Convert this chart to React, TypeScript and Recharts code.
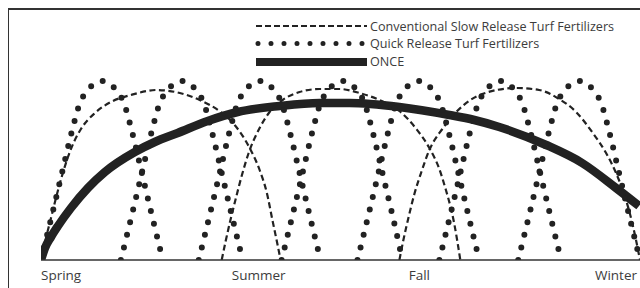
import React from 'react';
import { ComposedChart, Line, XAxis, YAxis, Legend } from 'recharts';

// x: position through the year (0 = start of spring), y: amount released
const seasonLabels = ['Spring', 'Summer', 'Fall', 'Winter'];
const seasonTicks = [0, 218, 379, 597];

const legendLabels = [
  'Conventional Slow Release Turf Fertilizers',
  'Quick Release Turf Fertilizers',
  'ONCE',
];

const onceRelease: [number, number][] = [
  [0, 0], [4, 12], [10, 23], [17, 34], [30, 52], [47, 72], [64, 88], [94, 108], [114, 118],
  [137, 127], [167, 139], [197, 148], [239, 154], [279, 157], [309, 157], [359, 153],
  [409, 145], [434, 140], [459, 133], [506, 115], [542, 97], [576, 72], [599, 54],
];

const slowRelease1: [number, number][] = [
  [0, 0], [4, 18], [9, 38], [15, 62], [21, 84], [27, 103], [33, 118], [40, 131], [54, 147],
  [70, 158], [90, 165], [116, 170], [139, 167], [159, 160], [180, 148], [194, 135],
  [209, 112], [219, 90], [226, 68], [232, 39], [237, 15], [240, 0],
];
const slowRelease2: [number, number][] = [
  [181, 0], [185, 19], [190, 41], [195, 61], [201, 84], [208, 107], [219, 132], [229, 148],
  [242, 160], [259, 168], [279, 171], [299, 171], [319, 167], [339, 160], [359, 149],
  [376, 131], [389, 112], [399, 91], [405, 72], [410, 54], [414, 36], [417, 19], [420, 0],
];
const slowRelease3: [number, number][] = [
  [359, 0], [363, 20], [368, 42], [374, 66], [381, 88], [389, 110], [402, 131], [416, 148],
  [442, 166], [476, 172], [499, 170], [519, 161], [536, 148], [552, 128], [566, 107],
  [576, 87], [586, 60], [592, 38], [596, 20], [600, 0],
];

const quick1: [number, number][] = [
  [0, 0], [11, 45], [21, 87], [31, 129], [39, 157], [46, 169], [55, 177], [61, 179],
  [67, 177], [76, 169], [83, 157], [91, 129], [101, 87], [111, 45], [122, 0],
];
const quick2: [number, number][] = [
  [80, 0], [91, 45], [101, 87], [111, 129], [119, 157], [126, 169], [135, 177], [141, 179],
  [147, 177], [156, 169], [163, 157], [171, 129], [181, 87], [191, 45], [202, 0],
];
const quick3: [number, number][] = [
  [158, 0], [169, 45], [179, 87], [189, 129], [197, 157], [204, 169], [213, 177], [219, 179],
  [225, 177], [234, 169], [241, 157], [249, 129], [259, 87], [269, 45], [280, 0],
];
const quick4: [number, number][] = [
  [241, 0], [252, 45], [262, 87], [272, 129], [280, 157], [287, 169], [296, 177], [302, 179],
  [308, 177], [317, 169], [324, 157], [332, 129], [342, 87], [352, 45], [362, 0],
];
const quick5: [number, number][] = [
  [317, 0], [328, 45], [338, 87], [348, 129], [356, 157], [363, 169], [372, 177], [378, 179],
  [384, 177], [393, 169], [400, 157], [408, 129], [418, 87], [428, 45], [439, 0],
];
const quick6: [number, number][] = [
  [399, 0], [410, 45], [420, 87], [430, 129], [438, 157], [445, 169], [454, 177], [460, 179],
  [466, 177], [475, 169], [482, 157], [490, 129], [500, 87], [510, 45], [521, 0],
];
const quick7: [number, number][] = [
  [478, 0], [489, 45], [499, 87], [509, 129], [517, 157], [524, 169], [533, 177], [539, 179],
  [545, 177], [554, 169], [561, 157], [569, 129], [579, 87], [589, 45], [600, 0],
];

const toRows = (pts: [number, number][]) => pts.map(([x, y]) => ({ x, y }));

const INK = '#222222';
const TEXT = '#3c3c3c';
const FONT = "'Open Sans', 'Noto Sans', sans-serif";

const slowSeries = [slowRelease1, slowRelease2, slowRelease3];
const quickSeries = [quick1, quick2, quick3, quick4, quick5, quick6, quick7];

const renderTick = (props: any) => {
  const { x, y, payload } = props;
  const i = seasonTicks.indexOf(payload.value);
  const anchor = i === 0 ? 'start' : i === seasonTicks.length - 1 ? 'end' : 'middle';
  return (
    <text x={x} y={y} dy={12} textAnchor={anchor} fontSize={13.5} fill={TEXT} fontFamily={FONT}>
      {seasonLabels[i]}
    </text>
  );
};

const renderLegend = () => (
  <svg width={380} height={58} style={{ display: 'block', overflow: 'visible' }}>
    <line x1={0} x2={111} y1={9} y2={9} stroke={INK} strokeWidth={2.2} strokeDasharray="6 3" />
    <line x1={2} x2={111} y1={26.5} y2={26.5} stroke={INK} strokeWidth={5} strokeDasharray="0 13" strokeLinecap="round" />
    <rect x={0} y={41} width={111} height={8} fill={INK} />
    {legendLabels.map((t, i) => (
      <text key={t} x={114} y={13.5 + i * 17.8} fontSize={12.6} fill={TEXT} fontFamily={FONT}>
        {t}
      </text>
    ))}
  </svg>
);

const renderYLabel = () => (
  <text
    x={24}
    y={124}
    transform="rotate(-90 24 124)"
    textAnchor="middle"
    fontSize={13.5}
    fill={TEXT}
    fontFamily={FONT}
  >
    Amount of Nutrients Released
  </text>
);

export default function App() {
  return (
    <div style={{ position: 'relative', width: 632, height: 280 }}>
      <style>{'html{overflow:hidden} body{margin-right:0}'}</style>
      <div
        style={{
          position: 'absolute',
          left: 0,
          top: 0,
          width: 632,
          height: 280,
          boxSizing: 'border-box',
          borderTop: '2px solid #333',
          borderLeft: '1.5px solid #333',
          pointerEvents: 'none',
        }}
      />
      <ComposedChart width={632} height={280} margin={{ top: 1, right: 0, bottom: 0, left: 33 }}>
        <XAxis
          dataKey="x"
          type="number"
          domain={[0, 600]}
          ticks={seasonTicks}
          interval={0}
          tick={renderTick}
          tickLine={false}
          axisLine={{ stroke: '#333', strokeWidth: 1.5 }}
          height={28}
          allowDataOverflow
        />
        <YAxis
          type="number"
          domain={[0, 251]}
          width={0}
          tick={false}
          tickLine={false}
          axisLine={{ stroke: '#333', strokeWidth: 1.5 }}
          label={{ content: renderYLabel }}
          allowDataOverflow
        />
        <Legend
          layout="vertical"
          align="center"
          verticalAlign="middle"
          wrapperStyle={{ left: 248, top: 8.5, width: 380 }}
          content={renderLegend}
        />
        <Line
          data={toRows(onceRelease)}
          dataKey="y"
          type="monotone"
          stroke={INK}
          strokeWidth={8.5}
          dot={false}
          activeDot={false}
          isAnimationActive={false}
          legendType="none"
        />
        {slowSeries.map((s, i) => (
          <Line
            key={'s' + i}
            data={toRows(s)}
            dataKey="y"
            type="monotone"
            stroke={INK}
            strokeWidth={2.2}
            strokeDasharray="6 3.5"
            dot={false}
            activeDot={false}
            isAnimationActive={false}
            legendType="none"
          />
        ))}
        {quickSeries.map((s, i) => (
          <Line
            key={'q' + i}
            data={toRows(s)}
            dataKey="y"
            type="monotone"
            stroke={INK}
            strokeWidth={6}
            strokeDasharray="0 13"
            strokeLinecap="round"
            dot={false}
            activeDot={false}
            isAnimationActive={false}
            legendType="none"
          />
        ))}
      </ComposedChart>
    </div>
  );
}
